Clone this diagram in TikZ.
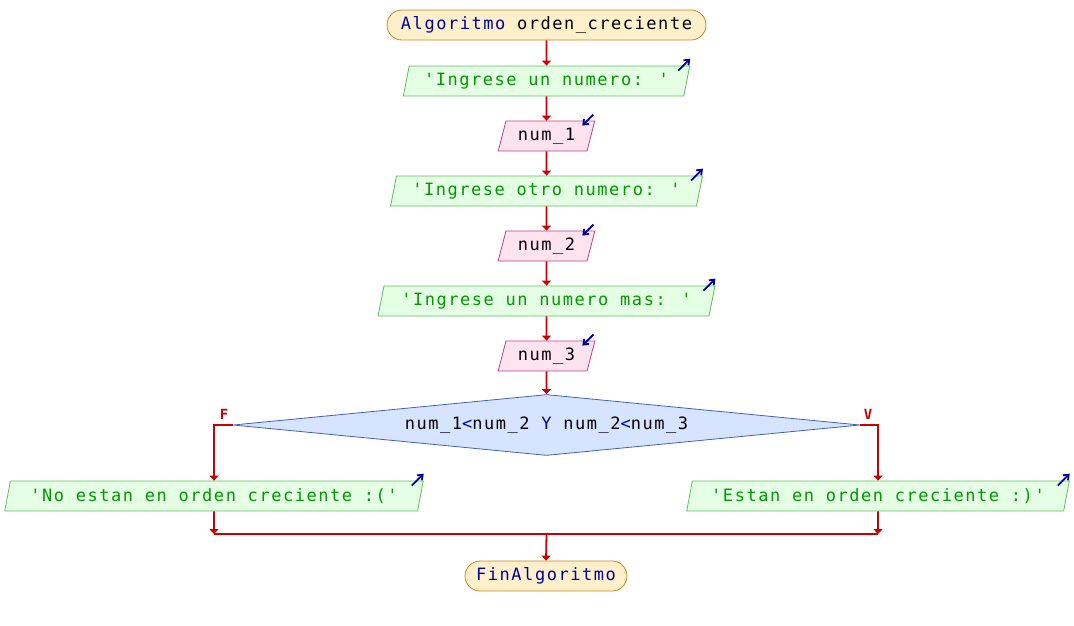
\documentclass[tikz,border=0pt]{standalone}
\usepackage{fontspec}
\usetikzlibrary{shapes.geometric,arrows.meta,calc}
\newfontfamily\monof[LetterSpace=9]{DejaVu Sans Mono}
\definecolor{flow}{HTML}{CC0000}
\definecolor{kw}{HTML}{000099}
\definecolor{termfill}{HTML}{FFF0CC}
\definecolor{termdraw}{HTML}{C8861E}
\definecolor{outfill}{HTML}{E4FFE4}
\definecolor{outdraw}{HTML}{5CBF5C}
\definecolor{outtext}{HTML}{009900}
\definecolor{infill}{HTML}{FFE4F0}
\definecolor{indraw}{HTML}{C04080}
\definecolor{decfill}{HTML}{D6E4FF}
\definecolor{decdraw}{HTML}{4060C0}
\tikzset{
  every node/.style={font=\monof\fontsize{17}{20}\selectfont, inner sep=0pt},
  term/.style={draw=termdraw, fill=termfill, rounded corners=15pt, minimum height=30pt, line width=0.8pt},
  para/.style={shape=trapezium, trapezium left angle=71.6, trapezium right angle=108.4,
     trapezium stretches=true, minimum height=30pt, line width=0.8pt},
  outbox/.style={para, draw=outdraw, fill=outfill, text=outtext},
  inbox/.style={para, draw=indraw, fill=infill, text=black},
  decbox/.style={shape=diamond, aspect=10, draw=decdraw, fill=decfill, line width=0.8pt,
     minimum width=627pt, minimum height=61pt},
  flowline/.style={draw=flow, line width=1.8pt},
  flowarrow/.style={flowline, -{Triangle[width=9pt,length=5pt]}},
  icon/.style={draw=kw, line width=1.8pt, -{Straight Barb[width=7pt,length=4.5pt]}},
  lab/.style={text=flow, font=\monof\fontsize{14}{16}\selectfont\bfseries}
}
\begin{document}
\begin{tikzpicture}[x=1pt,y=-1pt]
\useasboundingbox (0,0) rectangle (1074,625);
\node[term, minimum width=319pt] (start) at (546.5,25) {\textcolor{kw}{Algoritmo} orden\_creciente};
\node[outbox, minimum width=287pt] (o1) at (546.5,81) {'Ingrese un numero: '};
\node[inbox, minimum width=97pt] (i1) at (546.5,136) {num\_1};
\node[outbox, minimum width=313pt] (o2) at (546.5,191) {'Ingrese otro numero: '};
\node[inbox, minimum width=97pt] (i2) at (546.5,246) {num\_2};
\node[outbox, minimum width=338pt] (o3) at (546.5,301) {'Ingrese un numero mas: '};
\node[inbox, minimum width=97pt] (i3) at (546.5,356) {num\_3};
\node[decbox] (cond) at (546.5,425) {num\_1\textcolor{kw}{<}num\_2 \textcolor{kw}{Y} num\_2\textcolor{kw}{<}num\_3};
\node[outbox, minimum width=420pt] (oL) at (214,496) {'No estan en orden creciente :('};
\node[outbox, minimum width=384pt] (oR) at (878,496) {'Estan en orden creciente :)'};
\node[term, minimum width=162pt] (end) at (546,576) {\textcolor{kw}{FinAlgoritmo}};
\node[lab] (lF) at (224,414) {F};
\node[lab] (lV) at (868,414) {V};
\coordinate (jL) at (214,534);
\coordinate (jR) at (878,534);
\coordinate (jM) at (546.5,534);
% flow
\draw[flowarrow] (start.south) -- (o1.north);
\draw[flowarrow] (o1.south) -- (i1.north);
\draw[flowarrow] (i1.south) -- (o2.north);
\draw[flowarrow] (o2.south) -- (i2.north);
\draw[flowarrow] (i2.south) -- (o3.north);
\draw[flowarrow] (o3.south) -- (i3.north);
\draw[flowarrow] (i3.south) -- (cond.north);
\draw[flowarrow] (cond.west) -| (oL.north);
\draw[flowarrow] (cond.east) -| (oR.north);
\draw[flowarrow] (oL.south) -- (jL);
\draw[flowarrow] (oR.south) -- (jR);
\draw[flowline] (jL) -- (jR);
\draw[flowarrow] (jM) -- (end.north);
% io icons
\foreach \n in {o1,o2,o3,oL,oR}{
  \draw[icon] ($(\n.top right corner)+(-12,5)$) -- ($(\n.top right corner)+(0,-7)$);
}
\foreach \n in {i1,i2,i3}{
  \draw[icon] ($(\n.top right corner)+(-2,-6)$) -- ($(\n.top right corner)+(-13,5)$);
}
\end{tikzpicture}
\end{document}
